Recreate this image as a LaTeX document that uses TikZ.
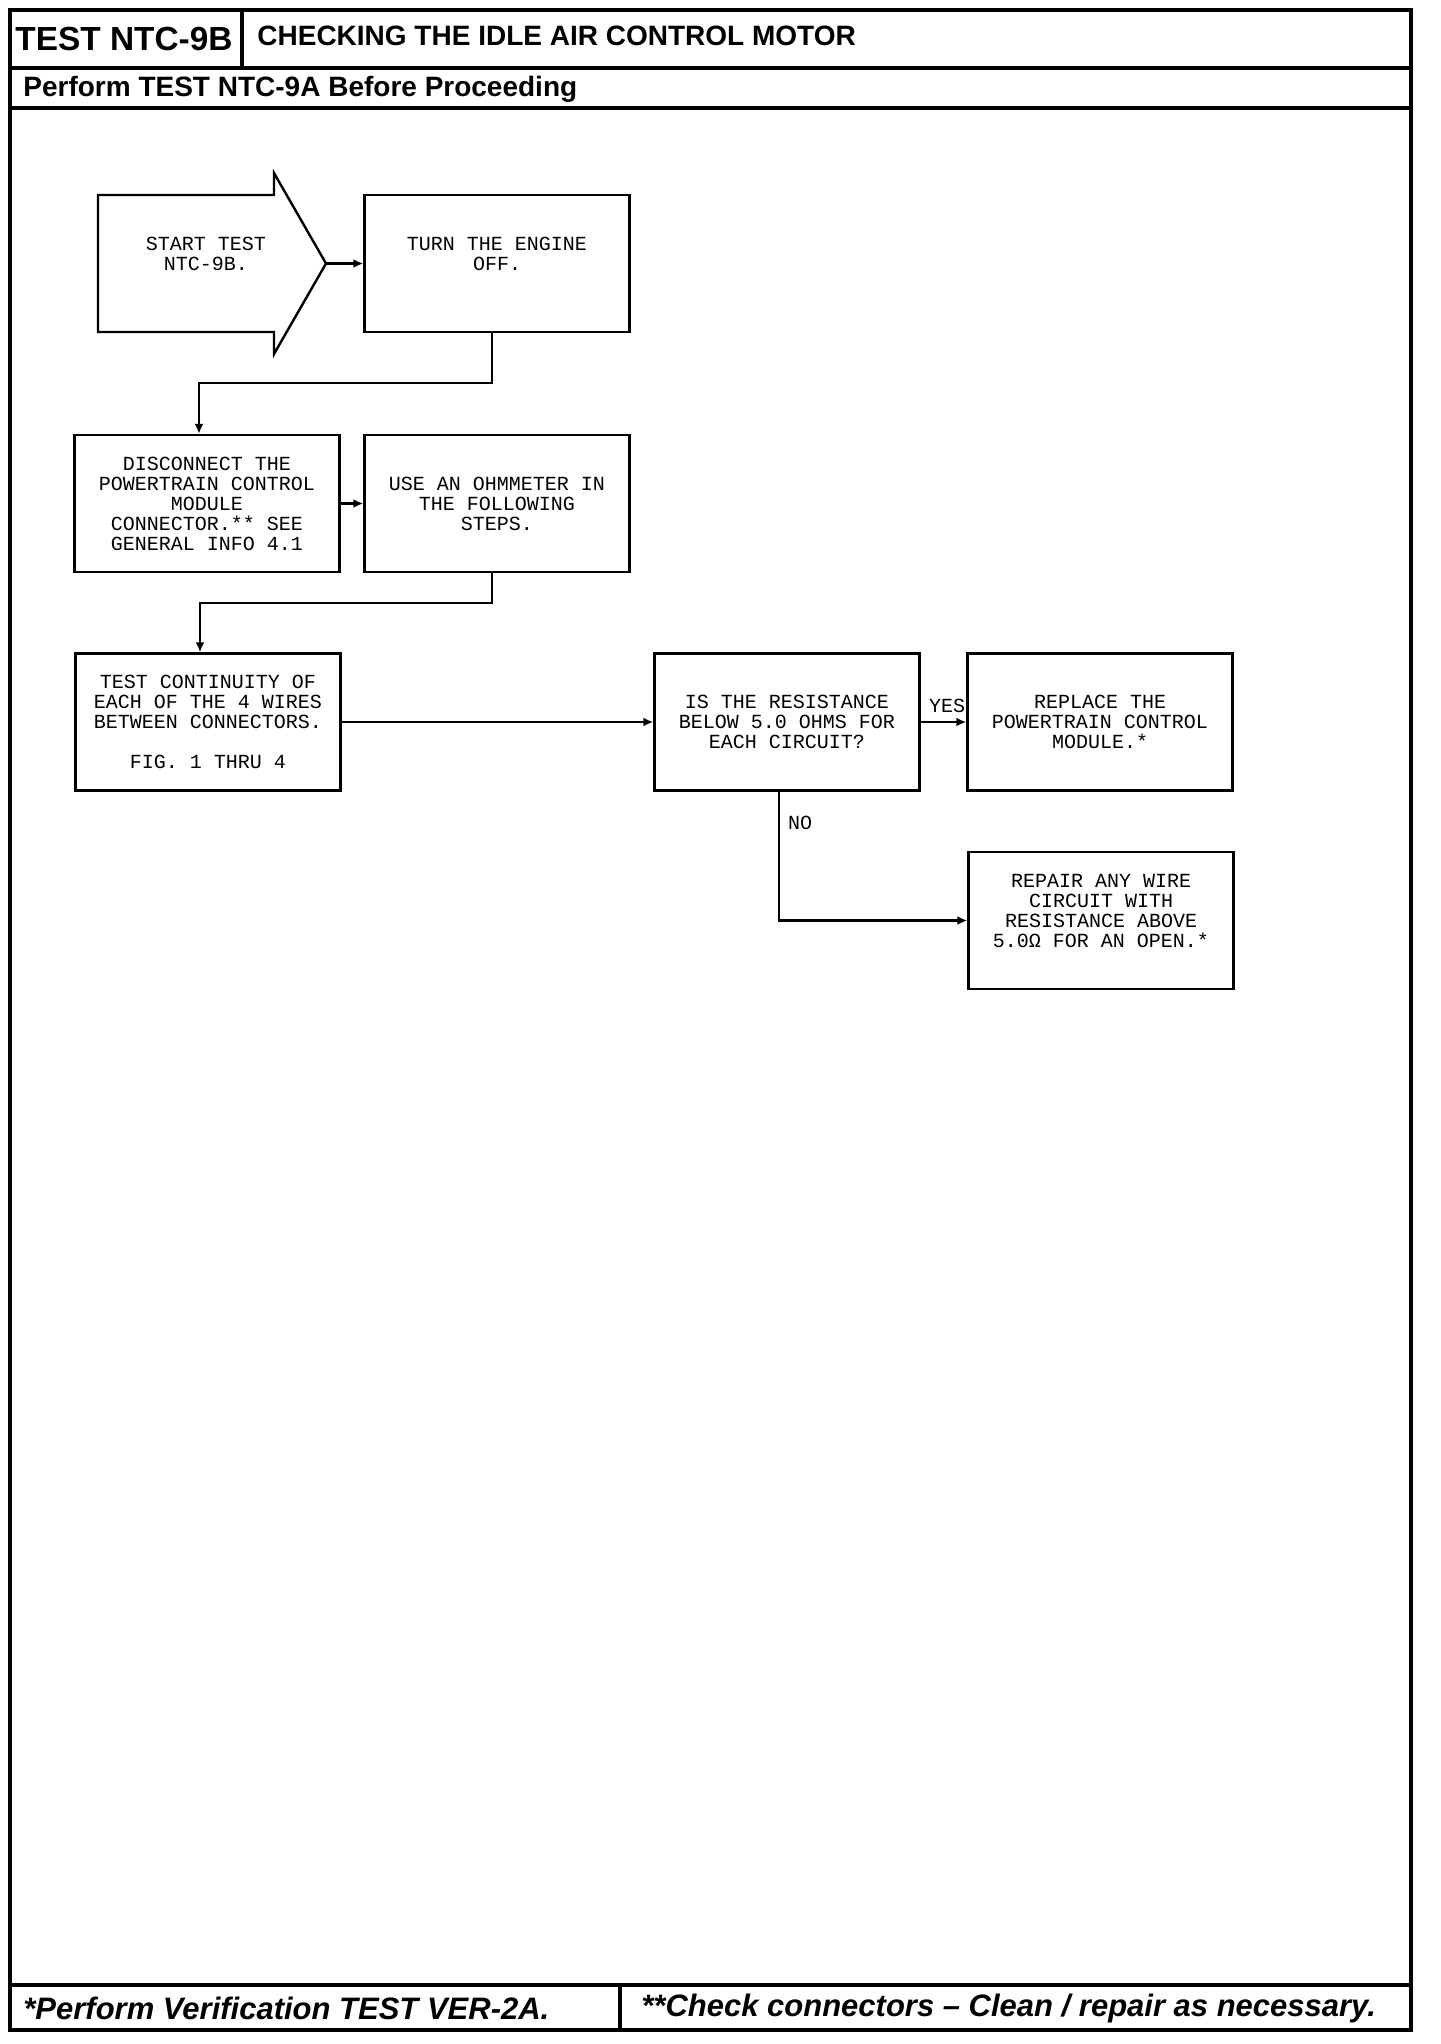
\documentclass[tikz,border=0pt]{standalone}
\usepackage{fontspec}
\setmainfont{Liberation Sans}
\newfontfamily\plotfont{Liberation Mono}
\usetikzlibrary{arrows.meta,positioning}

\tikzset{
  frame/.style={line width=1.6pt},
  stepbox/.style={draw,line width=1.2pt,minimum width=132.5pt,minimum height=68.5pt,
                  inner sep=0pt,align=center,font=\plotfont\fontsize{10}{10}\selectfont},
  flow/.style={line width=1.1pt,-{Latex[length=5pt,width=4.5pt]}},
  tag/.style={font=\plotfont\fontsize{10}{10}\selectfont,inner sep=0pt},
  headtext/.style={anchor=west,inner sep=0pt,font=\bfseries\fontsize{14}{14}\selectfont},
  foottext/.style={anchor=west,inner sep=0pt,font=\bfseries\itshape\fontsize{15.5}{15.5}\selectfont}
}

\begin{document}
\begin{tikzpicture}[x=0.5pt,y=-0.5pt,>=Latex]
  \useasboundingbox (0,0) rectangle (1440,2044);

  % sheet frame, header and footer
  \draw[frame] (10,10) rectangle (1411,2030);
  \draw[frame] (10,10) rectangle (242,68);
  \draw[frame] (242,68) -- (1411,68);
  \draw[frame] (10,108) -- (1411,108);
  \draw[frame] (10,1985) -- (1411,1985);
  \draw[frame] (620,1985) -- (620,2030);
  \node[headtext,font=\bfseries\fontsize{16.7}{16.7}\selectfont] (testid) at (15,39) {TEST NTC-9B};
  \node[headtext] (title) at (257,36) {CHECKING THE IDLE AIR CONTROL MOTOR};
  \node[headtext] (prereq) at (23,89) {Perform TEST NTC-9A Before Proceeding};
  \node[foottext] (noteone) at (23,2008) {*Perform Verification TEST VER-2A.};
  \node[foottext] (notetwo) at (641,2008) {**Check connectors -- Clean / repair as necessary.};

  % start arrow
  \draw[line width=1.2pt] (98,195) -- (274,195) -- (274,173) -- (326,263.5)
        -- (274,354) -- (274,332) -- (98,332) -- cycle;
  \coordinate (tip) at (326,263.5);
  \node[tag,align=center] (start) at (206,263.5) {START TEST\\NTC-9B.\\\mbox{}};

  % steps
  \node[stepbox] (turn) at (497,263.5) {TURN THE ENGINE\\OFF.\\\mbox{}};
  \node[stepbox] (discon) at (207,503.5) {DISCONNECT THE\\POWERTRAIN CONTROL\\MODULE\\CONNECTOR.** SEE\\GENERAL INFO 4.1};
  \node[stepbox] (ohm) at (497,503.5) {USE AN OHMMETER IN\\THE FOLLOWING\\STEPS.};
  \node[stepbox] (cont) at (208,722) {TEST CONTINUITY OF\\EACH OF THE 4 WIRES\\BETWEEN CONNECTORS.\\\mbox{}\\FIG. 1 THRU 4};
  \node[stepbox] (ask) at (787,722) {IS THE RESISTANCE\\BELOW 5.0 OHMS FOR\\EACH CIRCUIT?};
  \node[stepbox] (replace) at (1100,722) {REPLACE THE\\POWERTRAIN CONTROL\\MODULE.*};
  \node[stepbox] (repair) at (1101,920.5) {REPAIR ANY WIRE\\CIRCUIT WITH\\RESISTANCE ABOVE\\5.0Ω FOR AN OPEN.*\\\mbox{}};

  % connectors
  \draw[flow] (tip) -- (turn.west);
  \draw[flow] ([xshift=-2.5pt]turn.south) -- ++(0,50) -| ([xshift=-4pt]discon.north);
  \draw[flow] (discon) -- (ohm);
  \draw[flow] ([xshift=-2.5pt]ohm.south) -- ++(0,30) -| ([xshift=-4pt]cont.north);
  \draw[flow] (cont) -- (ask);
  \draw[flow] (ask) -- node[tag,pos=1,anchor=south east,yshift=4pt] (yes) {YES} (replace);
  \draw[flow] ([xshift=-4pt]ask.south) |- node[tag,pos=0.12,anchor=west,xshift=4pt] (no) {NO} (repair.west);
\end{tikzpicture}
\end{document}
